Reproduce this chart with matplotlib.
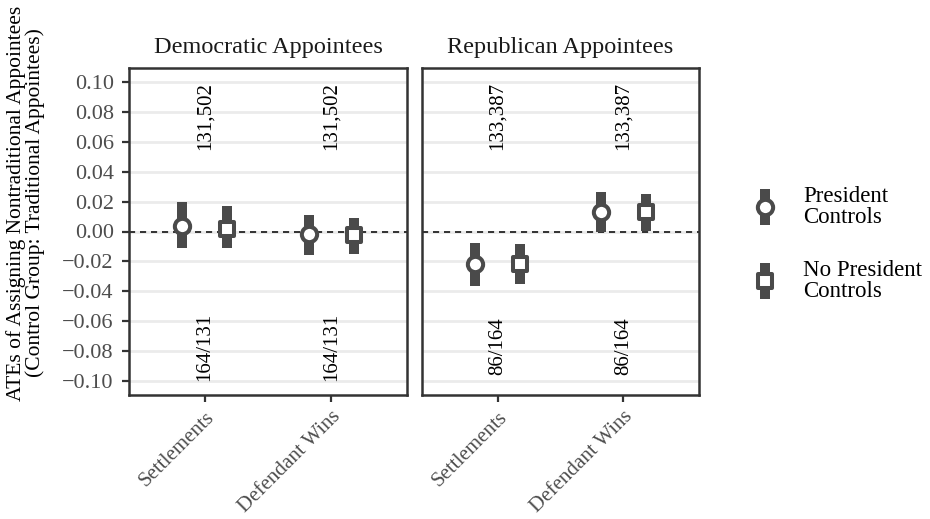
import matplotlib
matplotlib.use("Agg")
import matplotlib.pyplot as plt
from matplotlib.markers import MarkerStyle
import numpy as np

plt.rcParams["font.family"] = ["Liberation Serif", "DejaVu Serif"]

# ---- data ----
panels = ["Democratic Appointees", "Republican Appointees"]
outcomes = ["Settlements", "Defendant Wins"]
series = ["President\nControls", "No President\nControls"]

# point estimates and interval ends, indexed [panel][outcome]
est_pc = [[0.004, -0.002], [-0.022, 0.0133]]
lo_pc = [[-0.011, -0.0157], [-0.0365, 0.0]]
hi_pc = [[0.0197, 0.011], [-0.0079, 0.0266]]

est_npc = [[0.002, -0.0023], [-0.0215, 0.013]]
lo_npc = [[-0.0112, -0.015], [-0.0351, 0.0003]]
hi_npc = [[0.0173, 0.0088], [-0.0084, 0.0249]]

top_labels = [["131,502", "131,502"], ["133,387", "133,387"]]
bottom_labels = [["164/131", "164/131"], ["86/164", "86/164"]]

yticks = [-0.10, -0.08, -0.06, -0.04, -0.02, 0.00, 0.02, 0.04, 0.06, 0.08, 0.10]

# ---- style ----
W, H = 930, 519
DARK = "#4a4a4a"
GRID = "#ebebeb"
FRAME = "#333333"
TICKC = "#4d4d4d"
dodge = 0.178
ylim = (-0.1094, 0.1094)

circle = MarkerStyle("o")
square = MarkerStyle("s", joinstyle="round")

fig = plt.figure(figsize=(W / 100, H / 100), dpi=100)


def px_axes(x0, y0, x1, y1):
    return fig.add_axes([x0 / W, 1 - y1 / H, (x1 - x0) / W, (y1 - y0) / H])


axes = [px_axes(129, 68, 407, 395), px_axes(422, 68, 699, 395)]

for p, ax in enumerate(axes):
    ax.set_xlim(0.4, 2.6)
    ax.set_ylim(*ylim)
    ax.set_yticks(yticks)
    ax.yaxis.grid(True, color=GRID, linewidth=2.0, zorder=0)
    ax.set_axisbelow(True)
    ax.axhline(0, color="black", linewidth=1.1, linestyle=(0, (4, 3.2)), zorder=1)
    xs = np.arange(1, len(outcomes) + 1)
    for i, x in enumerate(xs):
        # President controls: circle
        ax.plot([x - dodge, x - dodge], [lo_pc[p][i], hi_pc[p][i]], color=DARK,
                linewidth=7.2, solid_capstyle="butt", zorder=2)
        ax.plot(x - dodge, est_pc[p][i], marker=circle, markersize=11,
                markerfacecolor="white", markeredgecolor=DARK, markeredgewidth=2.9,
                linestyle="none", zorder=3)
        # No president controls: square
        ax.plot([x + dodge, x + dodge], [lo_npc[p][i], hi_npc[p][i]], color=DARK,
                linewidth=7.2, solid_capstyle="butt", zorder=2)
        ax.plot(x + dodge, est_npc[p][i], marker=square, markersize=9.4,
                markerfacecolor="white", markeredgecolor=DARK, markeredgewidth=2.9,
                linestyle="none", zorder=3)
        ax.text(x, 0.077, top_labels[p][i], rotation=90, ha="center", va="center",
                fontsize=15, color="black", zorder=4)
        ax.text(x, -0.077, bottom_labels[p][i], rotation=90, ha="center", va="center",
                fontsize=15, color="black", zorder=4)
    ax.set_xticks(xs)
    ax.set_xticklabels(outcomes, rotation=45, ha="right", rotation_mode="anchor",
                       fontsize=15, color=TICKC)
    ax.tick_params(axis="x", length=5, width=1.6, color=FRAME, pad=4)
    for s in ax.spines.values():
        s.set_color(FRAME)
        s.set_linewidth(1.8)
    ax.set_title(panels[p], fontsize=17.5, color="#1a1a1a", pad=11)
    if p == 0:
        ax.set_yticklabels([f"{v:.2f}".replace("-", "\u2212") for v in yticks],
                           fontsize=16, color=TICKC)
        ax.tick_params(axis="y", length=5, width=1.6, color=FRAME, pad=6)
    else:
        ax.tick_params(axis="y", left=False, labelleft=False)

fig.text(26 / W, 1 - 203 / H,
         "ATEs of Assigning Nontraditional Appointees\n(Control Group: Traditional Appointees)",
         rotation=90, ha="center", va="center", multialignment="center",
         fontsize=15.5, linespacing=0.95)

# ---- legend ----
leg = px_axes(730, 170, 930, 310)
leg.set_xlim(730, 930)
leg.set_ylim(310, 170)
leg.axis("off")
key_x = 765
for k, (cy, mk, ms) in enumerate([(207, circle, 11), (281, square, 9.4)]):
    leg.plot([key_x, key_x], [cy - 18, cy + 18], color=DARK, linewidth=7.2,
             solid_capstyle="butt")
    leg.plot(key_x, cy, marker=mk, markersize=ms, markerfacecolor="white",
             markeredgecolor=DARK, markeredgewidth=2.9, linestyle="none")
    leg.text(803, cy, series[k], ha="left", va="center", fontsize=16.5,
             linespacing=0.95)

fig.savefig("out.png", dpi=100)
